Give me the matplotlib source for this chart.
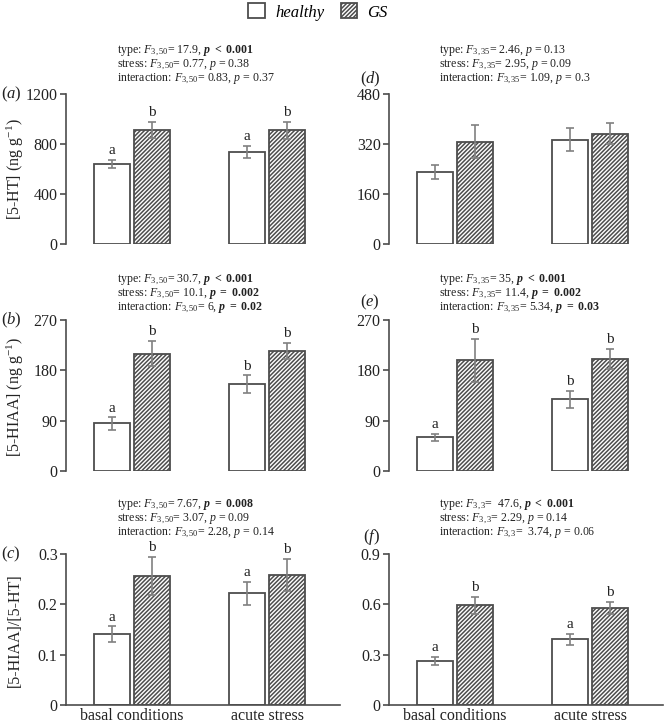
import matplotlib
matplotlib.use("Agg")
import matplotlib.pyplot as plt
import numpy as np
from matplotlib.patches import Patch

plt.rcParams['font.family'] = ['Liberation Serif', 'DejaVu Serif']
plt.rcParams['mathtext.fontset'] = 'custom'
plt.rcParams['mathtext.rm'] = 'Liberation Serif'
plt.rcParams['mathtext.it'] = 'Liberation Serif:italic'
plt.rcParams['mathtext.bf'] = 'Liberation Serif:bold'
plt.rcParams['mathtext.bfit'] = 'Liberation Serif:italic:bold'
plt.rcParams['hatch.color'] = '#333333'
plt.rcParams['hatch.linewidth'] = 1.1

conditions = ['basal conditions', 'acute stress']
groups = ['healthy', 'GS']

# panel data: healthy (basal, acute), GS (basal, acute)
a_healthy = [642, 735];   a_healthy_err = [33, 47]
a_gs = [910, 910];        a_gs_err = [65, 70]
a_letters = [['a', 'a'], ['b', 'b']]

d_healthy = [231, 334];   d_healthy_err = [23, 36]
d_gs = [328, 353];        d_gs_err = [52, 33]
d_letters = [['', ''], ['', '']]

b_healthy = [85, 155];    b_healthy_err = [11, 16]
b_gs = [210, 215];        b_gs_err = [23, 14]
b_letters = [['a', 'b'], ['b', 'b']]

e_healthy = [60, 128];    e_healthy_err = [7, 15]
e_gs = [198, 201];        e_gs_err = [38, 18]
e_letters = [['a', 'b'], ['b', 'b']]

c_healthy = [0.141, 0.222]; c_healthy_err = [0.015, 0.023]
c_gs = [0.256, 0.258];      c_gs_err = [0.038, 0.032]
c_letters = [['a', 'a'], ['b', 'b']]

f_healthy = [0.262, 0.391]; f_healthy_err = [0.026, 0.034]
f_gs = [0.595, 0.579];      f_gs_err = [0.050, 0.034]
f_letters = [['a', 'a'], ['b', 'b']]

a_ticks = [0, 400, 800, 1200]
d_ticks = [0, 160, 320, 480]
b_ticks = [0, 90, 180, 270]
e_ticks = [0, 90, 180, 270]
c_ticks = [0, 0.1, 0.2, 0.3]
f_ticks = [0, 0.3, 0.6, 0.9]
c_ticklabels = ['0', '0.1', '0.2', '0.3']
f_ticklabels = ['0', '0.3', '0.6', '0.9']

a_stats = [r'type: $F_{3,50}$= 17.9, $\mathbfit{p}$ $\mathbf{<}$ $\mathbf{0.001}$',
           r'stress: $F_{3,50}$= 0.77, $p$ = 0.38',
           r'interaction: $F_{3,50}$= 0.83, $p$ = 0.37']
d_stats = [r'type: $F_{3,35}$= 2.46, $p$ = 0.13',
           r'stress: $F_{3,35}$= 2.95, $p$ = 0.09',
           r'interaction: $F_{3,35}$= 1.09, $p$ = 0.3']
b_stats = [r'type: $F_{3,50}$= 30.7, $\mathbfit{p}$ $\mathbf{<}$ $\mathbf{0.001}$',
           r'stress: $F_{3,50}$= 10.1, $\mathbfit{p}$ $\mathbf{=}$ $\mathbf{0.002}$',
           r'interaction: $F_{3,50}$= 6, $\mathbfit{p}$ $\mathbf{=}$ $\mathbf{0.02}$']
e_stats = [r'type: $F_{3,35}$= 35, $\mathbfit{p}$ $\mathbf{<}$ $\mathbf{0.001}$',
           r'stress: $F_{3,35}$= 11.4, $\mathbfit{p}$ $\mathbf{=}$ $\mathbf{0.002}$',
           r'interaction: $F_{3,35}$= 5.34, $\mathbfit{p}$ $\mathbf{=}$ $\mathbf{0.03}$']
c_stats = [r'type: $F_{3,50}$= 7.67, $\mathbfit{p}$ $\mathbf{=}$ $\mathbf{0.008}$',
           r'stress: $F_{3,50}$= 3.07, $p$ = 0.09',
           r'interaction: $F_{3,50}$= 2.28, $p$ = 0.14']
f_stats = [r'type: $F_{3,3}$=  47.6, $\mathbfit{p}$ $\mathbf{<}$ $\mathbf{0.001}$',
           r'stress: $F_{3,3}$= 2.29, $p$ = 0.14',
           r'interaction: $F_{3,3}$=  3.74, $p$ = 0.06']

W, H = 665, 725
fig = plt.figure(figsize=(W / 100, H / 100), dpi=100)

def fx(px):
    return px / W

def fy(py):
    return 1 - py / H

EDGE = '#4d4d4d'
ERR = '#808080'
TXT = '#222222'

def make_panel(left_px, top_px, bottom_px, right_px, healthy, herr, gs, gerr,
               letters, ticks, ticklabels, bottom_axis, label, label_xy,
               stats, stats_x, stats_y):
    ax = fig.add_axes([fx(left_px), fy(bottom_px), fx(right_px - left_px),
                       (bottom_px - top_px) / H])
    x = np.arange(len(conditions))
    w = 0.27
    off = 0.148
    ax.bar(x - off, healthy, w, color='white', edgecolor=EDGE, linewidth=1.3,
           zorder=2)
    ax.bar(x + off, gs, w, color='white', edgecolor=EDGE, linewidth=1.3,
           hatch='////////', zorder=2)
    ax.errorbar(x - off, healthy, yerr=herr, fmt='none', ecolor=ERR,
                elinewidth=1.2, capsize=3, capthick=1.2, zorder=3)
    ax.errorbar(x + off, gs, yerr=gerr, fmt='none', ecolor=ERR,
                elinewidth=1.2, capsize=3, capthick=1.2, zorder=3)
    for i in range(len(conditions)):
        for xs, v, e, lt in ((x[i] - off, healthy[i], herr[i], letters[0][i]),
                             (x[i] + off, gs[i], gerr[i], letters[1][i])):
            if lt:
                ax.annotate(lt, (xs, v + e), xytext=(0, 2),
                            textcoords='offset points', ha='center',
                            va='bottom', fontsize=11, color=TXT)
    ax.set_xlim(-0.49, 1.54)
    ax.set_ylim(0, ticks[-1])
    ax.set_yticks(ticks)
    ax.set_yticklabels(ticklabels)
    for s in ('top', 'right'):
        ax.spines[s].set_visible(False)
    ax.spines['left'].set_color(EDGE)
    ax.spines['left'].set_linewidth(1.2)
    ax.tick_params(axis='y', direction='out', length=4, width=1.2,
                   color=EDGE, labelsize=11.5, pad=2, labelcolor=TXT)
    if bottom_axis:
        ax.spines['bottom'].set_color(EDGE)
        ax.spines['bottom'].set_linewidth(1.2)
        ax.set_xticks(x)
        ax.set_xticklabels(conditions)
        ax.tick_params(axis='x', length=0, labelsize=11.5, pad=2,
                       labelcolor=TXT)
    else:
        ax.spines['bottom'].set_visible(False)
        ax.set_xticks([])
    fig.text(fx(label_xy[0]), fy(label_xy[1]), label, ha='center',
             va='center', fontsize=12, color=TXT)
    for k, s in enumerate(stats):
        fig.text(fx(stats_x), fy(stats_y + 14 * k), s, ha='left',
                 va='center', fontsize=8.6, color=TXT)
    return ax

make_panel(66, 94, 244, 340, a_healthy, a_healthy_err, a_gs, a_gs_err,
           a_letters, a_ticks, [str(t) for t in a_ticks], False,
           r'($\mathit{a}$)', (11, 94), a_stats, 117, 51)
make_panel(389, 94, 244, 663, d_healthy, d_healthy_err, d_gs, d_gs_err,
           d_letters, d_ticks, [str(t) for t in d_ticks], False,
           r'($\mathit{d}$)', (370, 79), d_stats, 439, 51)
make_panel(66, 320, 471, 340, b_healthy, b_healthy_err, b_gs, b_gs_err,
           b_letters, b_ticks, [str(t) for t in b_ticks], False,
           r'($\mathit{b}$)', (11, 320), b_stats, 117, 280)
make_panel(389, 320, 471, 663, e_healthy, e_healthy_err, e_gs, e_gs_err,
           e_letters, e_ticks, [str(t) for t in e_ticks], False,
           r'($\mathit{e}$)', (370, 302), e_stats, 439, 280)
make_panel(66, 554, 705, 340, c_healthy, c_healthy_err, c_gs, c_gs_err,
           c_letters, c_ticks, c_ticklabels, True,
           r'($\mathit{c}$)', (11, 554), c_stats, 117, 505)
make_panel(389, 554, 705, 663, f_healthy, f_healthy_err, f_gs, f_gs_err,
           f_letters, f_ticks, f_ticklabels, True,
           r'($\mathit{f}$)', (372, 537), f_stats, 439, 505)

fig.text(fx(15), fy(169), r'[5-HT] (ng g$^{-1}$)', rotation=90, ha='center',
         va='center', fontsize=11.5, color=TXT)
fig.text(fx(15), fy(397), r'[5-HIAA] (ng g$^{-1}$)', rotation=90,
         ha='center', va='center', fontsize=11.5, color=TXT)
fig.text(fx(15), fy(630), '[5-HIAA]/[5-HT]', rotation=90, ha='center',
         va='center', fontsize=11.5, color=TXT)

handles = [Patch(facecolor='white', edgecolor=EDGE, linewidth=1.3),
           Patch(facecolor='white', edgecolor=EDGE, linewidth=1.3,
                 hatch='////////')]
fig.legend(handles, groups, loc='center', bbox_to_anchor=(fx(318), fy(12)),
           ncol=2, frameon=False, prop={'style': 'italic', 'size': 12},
           handlelength=1.0, handleheight=1.0, columnspacing=1.0,
           handletextpad=0.6)

fig.savefig('out.png', dpi=100)
